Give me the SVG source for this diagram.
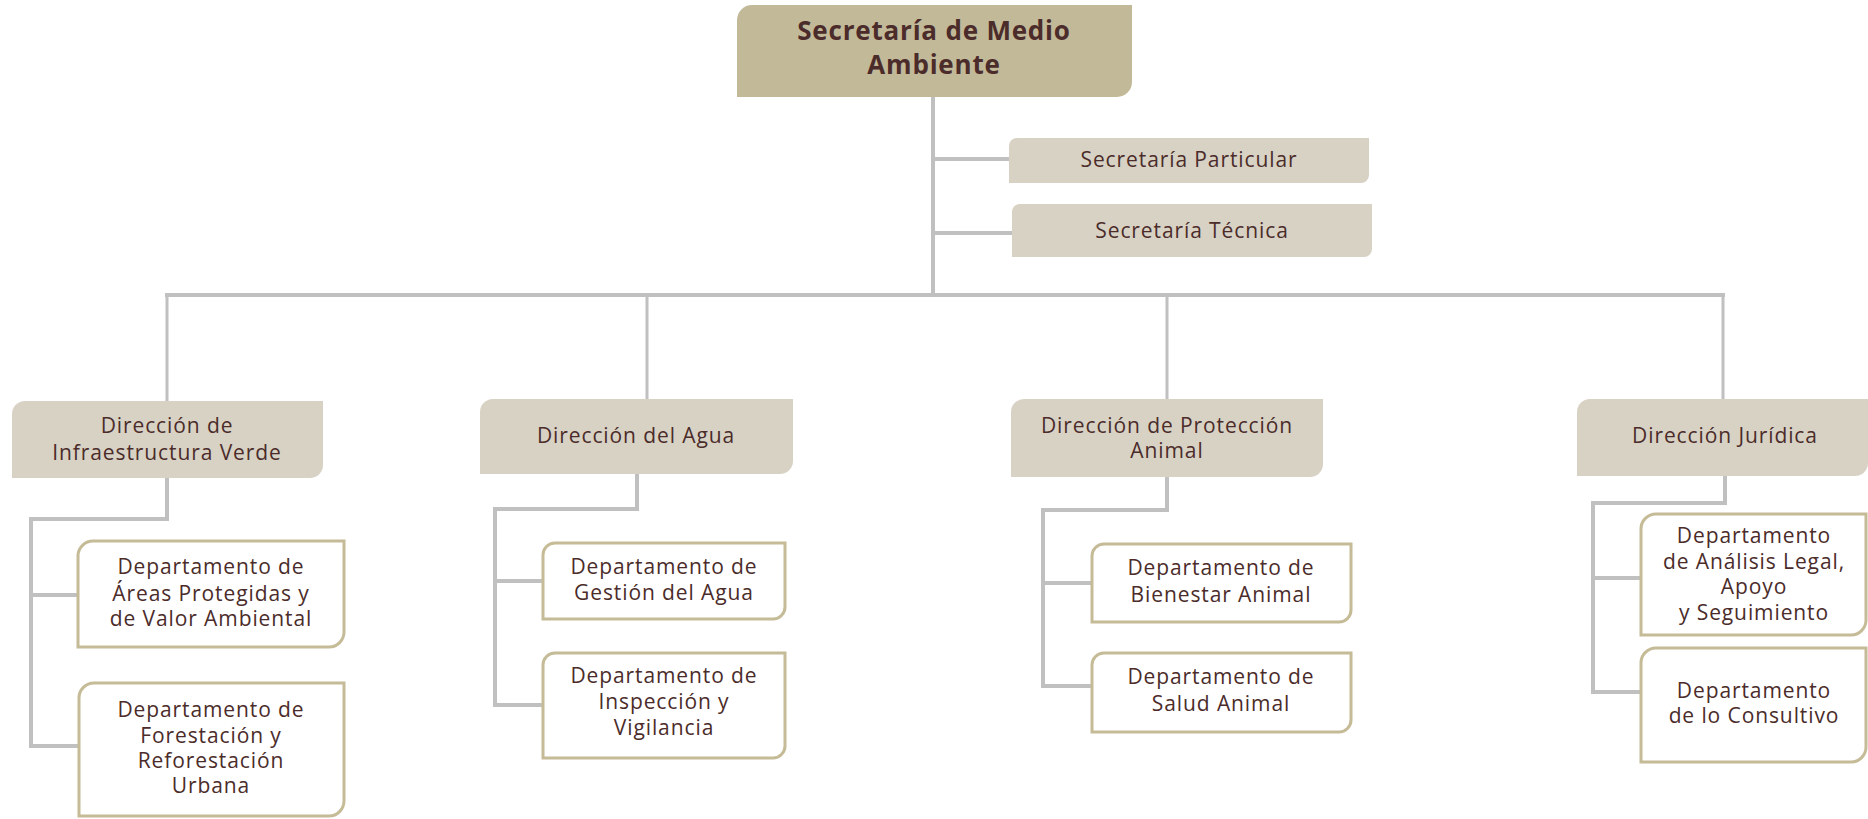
<svg xmlns="http://www.w3.org/2000/svg" width="1868" height="819" viewBox="0 0 1868 819">
<style>
.t{font-family:"Open Sans","DejaVu Sans",sans-serif;font-size:21px;letter-spacing:0.9px;fill:#4b2c2a;text-anchor:middle}
.tb{font-family:"Open Sans","DejaVu Sans",sans-serif;font-size:26px;letter-spacing:0.8px;font-weight:700;fill:#4b2c2a;text-anchor:middle}
.top{fill:#c2b999}
.dir{fill:#d8d2c5}
.dep{fill:#ffffff;stroke:#c5bb97;stroke-width:3}
.c{fill:none;stroke:#c0c0c0;stroke-width:4}
.cd{fill:none;stroke:#c0c0c0;stroke-width:3}
</style>
<rect width="1868" height="819" fill="#ffffff"/>
<g id="connectors">
<path class="c" d="M933,97 V295"/>
<path class="c" d="M933,159 H1009 M933,233 H1012"/>
<path class="c" d="M165,295 H1725"/>
<path class="cd" d="M167,295 V401 M647,295 V399 M1167,295 V399 M1723,295 V399"/>
<path class="c" d="M167,478 V519 H31 V746 H78 M31,595 H78"/>
<path class="c" d="M637,474 V509 H495 V705 H542 M495,581 H542"/>
<path class="c" d="M1167,477 V510 H1043 V686 H1091 M1043,583 H1091"/>
<path class="c" d="M1725,476 V503 H1593 V692 H1640 M1593,578 H1640"/>
</g>
<g id="n-secretaria">
<path class="top" d="M737,20 A15,15 0 0 1 752,5 H1132 V82 A15,15 0 0 1 1117,97 H737 Z"/>
<text class="tb" x="934" y="40">Secretaría de Medio</text>
<text class="tb" x="934" y="74">Ambiente</text>
</g>
<g id="n-particular">
<path class="dir" d="M1009,146 A8,8 0 0 1 1017,138 H1369 V175 A8,8 0 0 1 1361,183 H1009 Z"/>
<text class="t" x="1189" y="167">Secretaría Particular</text>
</g>
<g id="n-tecnica">
<path class="dir" d="M1012,212 A8,8 0 0 1 1020,204 H1372 V249 A8,8 0 0 1 1364,257 H1012 Z"/>
<text class="t" x="1192" y="238">Secretaría Técnica</text>
</g>
<g id="n-dir-infra">
<path class="dir" d="M12,414 A13,13 0 0 1 25,401 H323 V465 A13,13 0 0 1 310,478 H12 Z"/>
<text class="t" x="167" y="433">Dirección de</text>
<text class="t" x="167" y="460">Infraestructura Verde</text>
</g>
<g id="n-dir-agua">
<path class="dir" d="M480,412 A13,13 0 0 1 493,399 H793 V461 A13,13 0 0 1 780,474 H480 Z"/>
<text class="t" x="636" y="443">Dirección del Agua</text>
</g>
<g id="n-dir-prot">
<path class="dir" d="M1011,412 A13,13 0 0 1 1024,399 H1323 V464 A13,13 0 0 1 1310,477 H1011 Z"/>
<text class="t" x="1167" y="433">Dirección de Protección</text>
<text class="t" x="1167" y="458">Animal</text>
</g>
<g id="n-dir-jur">
<path class="dir" d="M1577,412 A13,13 0 0 1 1590,399 H1868 V463 A13,13 0 0 1 1855,476 H1577 Z"/>
<text class="t" x="1725" y="443">Dirección Jurídica</text>
</g>
<g id="n-dep-areas">
<path class="dep" d="M78,555 A15,15 0 0 1 93,541 H344 V632 A15,15 0 0 1 329,647 H78 Z"/>
<text class="t" x="211" y="574">Departamento de</text>
<text class="t" x="211" y="601">Áreas Protegidas y</text>
<text class="t" x="211" y="626">de Valor Ambiental</text>
</g>
<g id="n-dep-forest">
<path class="dep" d="M79,698 A15,15 0 0 1 94,683 H344 V801 A15,15 0 0 1 329,816 H79 Z"/>
<text class="t" x="211" y="717">Departamento de</text>
<text class="t" x="211" y="743">Forestación y</text>
<text class="t" x="211" y="768">Reforestación</text>
<text class="t" x="211" y="793">Urbana</text>
</g>
<g id="n-dep-gestion">
<path class="dep" d="M543,555 A12,12 0 0 1 555,543 H785 V607 A12,12 0 0 1 773,619 H543 Z"/>
<text class="t" x="664" y="574">Departamento de</text>
<text class="t" x="664" y="600">Gestión del Agua</text>
</g>
<g id="n-dep-inspeccion">
<path class="dep" d="M543,665 A12,12 0 0 1 555,653 H785 V746 A12,12 0 0 1 773,758 H543 Z"/>
<text class="t" x="664" y="683">Departamento de</text>
<text class="t" x="664" y="709">Inspección y</text>
<text class="t" x="664" y="735">Vigilancia</text>
</g>
<g id="n-dep-bienestar">
<path class="dep" d="M1092,556 A12,12 0 0 1 1104,544 H1351 V610 A12,12 0 0 1 1339,622 H1092 Z"/>
<text class="t" x="1221" y="575">Departamento de</text>
<text class="t" x="1221" y="602">Bienestar Animal</text>
</g>
<g id="n-dep-salud">
<path class="dep" d="M1092,665 A12,12 0 0 1 1104,653 H1351 V720 A12,12 0 0 1 1339,732 H1092 Z"/>
<text class="t" x="1221" y="684">Departamento de</text>
<text class="t" x="1221" y="711">Salud Animal</text>
</g>
<g id="n-dep-analisis">
<path class="dep" d="M1641,529 A15,15 0 0 1 1656,514 H1866 V620 A15,15 0 0 1 1851,635 H1641 Z"/>
<text class="t" x="1754" y="543">Departamento</text>
<text class="t" x="1754" y="569">de Análisis Legal,</text>
<text class="t" x="1754" y="594">Apoyo</text>
<text class="t" x="1754" y="620">y Seguimiento</text>
</g>
<g id="n-dep-consultivo">
<path class="dep" d="M1641,663 A15,15 0 0 1 1656,648 H1866 V747 A15,15 0 0 1 1851,762 H1641 Z"/>
<text class="t" x="1754" y="698">Departamento</text>
<text class="t" x="1754" y="723">de lo Consultivo</text>
</g>
</svg>
